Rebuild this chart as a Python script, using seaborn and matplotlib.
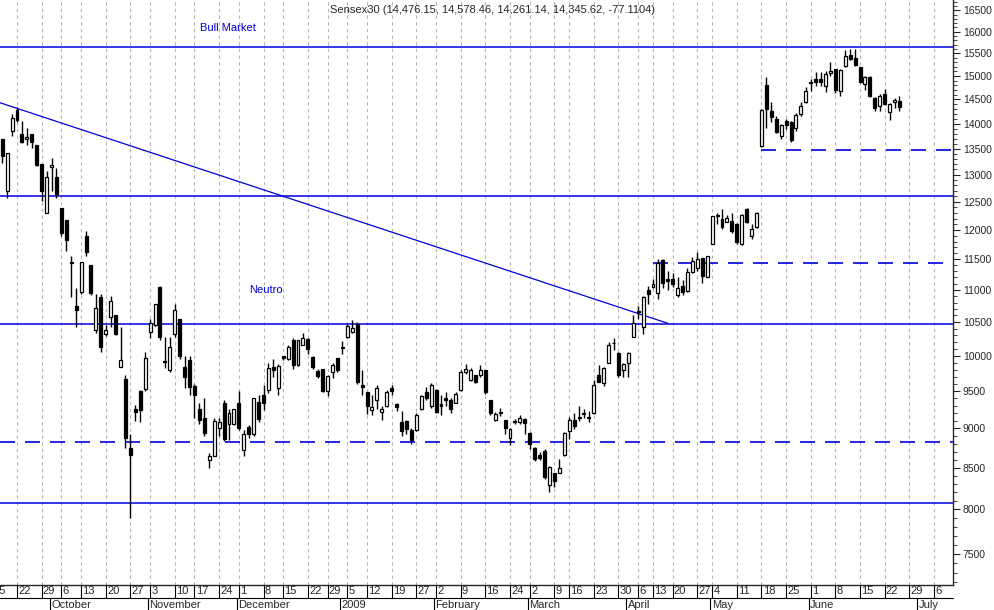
import numpy as np
import pandas as pd
import matplotlib
matplotlib.use("Agg")
import matplotlib.pyplot as plt
import matplotlib.transforms as mtransforms
from matplotlib.lines import Line2D
from matplotlib.ticker import FixedLocator, NullFormatter, FixedFormatter
import seaborn as sns

# ---------------- data ----------------
holidays = ["2008-10-02", "2008-10-09", "2008-10-30", "2008-11-13", "2008-11-27",
            "2008-12-09", "2008-12-25", "2009-01-01", "2009-01-08", "2009-01-26",
            "2009-02-23", "2009-03-10", "2009-03-11", "2009-04-03", "2009-04-07",
            "2009-04-10", "2009-04-14", "2009-04-30", "2009-05-01"]

opens = [13690, 12700, 13850, 14290, 13790, 13700, 13790, 13570, 13200, 12290, 13150, 12950,
         12390, 12180, 11450, 10740, 10960, 11890, 11400, 10380, 10890, 10320, 10580, 10600, 9840,
         9660, 8750, 9260, 9500, 9530, 10350, 10450, 11050, 9920, 9800,
         10320, 10540, 9840, 9940, 9570, 9250, 9140, 8590, 8650, 9000, 9330, 9060, 9060,
         9330, 8720, 9020, 8930, 9350, 9440, 9510, 9840, 9540, 9990, 9950, 10230, 9870, 10160,
         10250, 9980, 9780, 9810, 9500, 9770, 9960, 10110, 10280, 10350, 10470, 9580,
         9480, 9240, 9380, 9210, 9290, 9540, 9320, 9080, 9100, 8980, 8980, 9250, 9490, 9290,
         9510, 9320, 9400, 9380, 9340, 9510, 9760, 9650, 9720, 9720, 9790, 9370, 9110, 9200, 9110,
         8880, 9080, 9080, 9120, 8940, 8750, 8660, 8710, 8290, 8430, 8440, 8660,
         8970, 9110, 9130, 9190, 9140, 9200, 9720, 9610, 9900, 10180, 10040, 9790, 9900, 10280,
         10650, 10420, 11000, 11040, 10950, 11480, 11180, 11180, 10920, 11060, 10990, 11290,
         11360, 11520, 11210, 11760, 12250, 12200, 12140, 12160, 12110, 11750, 12370, 11890, 12050,
         13560, 14810, 14260, 14100, 13760, 14060, 14040, 13920, 14200, 14440,
         14860, 14930, 14930, 14790, 15060, 15150, 14670, 15220, 15470, 15400,
         15190, 14820, 14990, 14540, 14370, 14620, 14230, 14440, 14476]
highs = [13690, 13410, 14200, 14350, 14060, 13910, 13790, 13570, 13200, 13080, 13320, 13120,
         12390, 12180, 11560, 11030, 11450, 11990, 11400, 10930, 10930, 10450, 10900, 10600, 10420,
         9730, 8920, 9310, 9520, 10060, 10550, 10780, 11070, 10280, 10270,
         10780, 10550, 10000, 10000, 9590, 9330, 9400, 8680, 9130, 9130, 9370, 9250, 9260,
         9500, 8980, 9040, 9410, 9450, 9580, 9900, 9950, 9880, 10000, 10150, 10260, 10230, 10330,
         10260, 10000, 9810, 9810, 9720, 9900, 9960, 10220, 10470, 10530, 10500, 9790,
         9480, 9440, 9580, 9300, 9520, 9580, 9330, 9230, 9110, 9010, 9200, 9450, 9560, 9610,
         9530, 9450, 9490, 9400, 9480, 9790, 9880, 9820, 9730, 9860, 9790, 9380, 9210, 9270, 9110,
         9010, 9120, 9170, 9130, 8950, 8760, 8700, 8730, 8520, 8440, 8610, 8950,
         9150, 9200, 9300, 9260, 9230, 9650, 9860, 9840, 10200, 10260, 10060, 9900, 10060, 10600,
         10750, 10900, 11070, 11180, 11500, 11500, 11300, 11280, 11200, 11160, 11360, 11530,
         11620, 11520, 11560, 12250, 12300, 12370, 12270, 12290, 12120, 12280, 12380, 12110, 12320,
         14300, 14980, 14450, 14150, 13990, 14090, 14050, 14220, 14440, 14760,
         14940, 15080, 15080, 15120, 15300, 15150, 15160, 15580, 15600, 15600,
         15200, 15000, 15000, 14560, 14620, 14720, 14430, 14540, 14578]
lows = [13220, 12570, 13750, 14040, 13610, 13580, 13520, 13160, 12520, 12290, 12700, 12560,
        11900, 11640, 10890, 10420, 10930, 11560, 10920, 10330, 10060, 10290, 10420, 10300, 9840,
        8740, 7900, 9100, 9080, 9500, 10260, 10440, 10230, 9820, 9760,
        10270, 9950, 9540, 9450, 9130, 9050, 8900, 8500, 8650, 8900, 8840, 8850, 9040,
        8980, 8650, 8880, 8900, 9080, 9240, 9470, 9700, 9450, 9930, 9940, 9810, 9850, 10150,
        10020, 9810, 9680, 9480, 9430, 9680, 9770, 10020, 10260, 10330, 9600, 9440,
        9190, 9180, 9250, 9110, 9280, 9450, 9230, 8900, 8920, 8800, 8960, 9240, 9380, 9270,
        9200, 9180, 9300, 9200, 9330, 9500, 9740, 9640, 9610, 9700, 9460, 9170, 9100, 9160, 8930,
        8790, 9050, 9050, 8920, 8730, 8580, 8600, 8360, 8210, 8270, 8430, 8640,
        8860, 8990, 9100, 9130, 9080, 9190, 9620, 9570, 9900, 10080, 9690, 9700, 9700, 10270,
        10550, 10320, 10780, 11030, 10860, 11030, 11000, 11050, 10880, 10920, 10960, 11280,
        11300, 11110, 11200, 11750, 12110, 12020, 12130, 11950, 11750, 11740, 12120, 11840, 12040,
        13540, 13920, 14040, 13810, 13690, 13900, 13640, 13850, 14150, 14420,
        14680, 14780, 14780, 14660, 15010, 14640, 14580, 15200, 15350, 15230,
        14860, 14710, 14560, 14260, 14260, 14390, 14070, 14320, 14261]
closes = [13350, 13410, 14120, 14080, 13630, 13740, 13630, 13180, 12690, 12960, 13190, 12640,
          11940, 11820, 11430, 10690, 11450, 11620, 10950, 10720, 10130, 10380, 10830, 10320, 9930,
          8880, 8660, 9220, 9240, 9960, 10490, 10780, 10280, 9910, 10120,
          10680, 9990, 9690, 9550, 9450, 9110, 8940, 8650, 9100, 9080, 8860, 9200, 9250,
          9010, 8920, 8920, 9400, 9120, 9330, 9820, 9790, 9850, 9970, 10130, 9870, 10230, 10260,
          10100, 9840, 9710, 9500, 9710, 9860, 9800, 10120, 10440, 10410, 9620, 9560,
          9290, 9280, 9540, 9250, 9490, 9500, 9280, 8970, 8990, 8850, 9170, 9430, 9400, 9580,
          9220, 9300, 9370, 9250, 9460, 9760, 9810, 9790, 9630, 9800, 9480, 9200, 9190, 9210, 9010,
          8990, 9090, 9130, 9070, 8800, 8610, 8620, 8380, 8510, 8340, 8500, 8940,
          9110, 9030, 9150, 9200, 9150, 9580, 9630, 9820, 10150, 10190, 9720, 9880, 10040, 10490,
          10660, 10880, 10940, 11090, 11430, 11110, 11150, 11100, 11030, 10970, 11290, 11470,
          11500, 11220, 11550, 12240, 12260, 12050, 12210, 11980, 11800, 12270, 12130, 12010, 12290,
          14290, 14310, 14130, 13830, 13970, 13980, 13680, 14180, 14370, 14680,
          14850, 14880, 14880, 15040, 15120, 14690, 15140, 15440, 15370, 15250,
          14880, 14990, 14580, 14320, 14580, 14400, 14400, 14480, 14345]

y_ticks = list(range(7500, 17000, 500))
solid_levels = [15650, 12600, 10470, 8070]
dashed_levels = [(13480, "2009-05-18"), (11430, "2009-04-13"), (8820, None)]
trend_start = ("2008-09-16", 14450)
trend_end = ("2009-04-17", 10480)
title_txt = "Sensex30 (14,476.15, 14,578.46, 14,261.14, 14,345.62, -77.1104)"

# ---------------- calendar ----------------
alldays = pd.bdate_range("2008-09-15", "2009-07-10")
alldays = alldays[~alldays.isin(pd.to_datetime(holidays))]
start = pd.Timestamp("2008-09-17")
idx0 = int(np.where(alldays == start)[0][0])
pos = {d: i - idx0 for i, d in enumerate(alldays)}
n = len(opens)
dates = alldays[idx0:idx0 + n]
xs = np.array([pos[d] for d in dates], dtype=float)

df = pd.DataFrame({"x": xs, "open": opens, "high": highs, "low": lows, "close": closes})

# ---------------- figure ----------------
sns.set_style("white")
plt.rcParams["font.family"] = ["Liberation Sans", "DejaVu Sans"]
W, H = 994, 610
fig = plt.figure(figsize=(W / 100, H / 100), dpi=100)
ax = fig.add_axes([0, 25 / H, 953 / W, 1 - 25 / H])
ax.set_yscale("log")
ax.set_ylim(7170, 16750)

x_sep22 = pos[pd.Timestamp("2008-09-22")]
x_jul6 = pos[pd.Timestamp("2009-07-06")]
ppd = (934 - 17) / (x_jul6 - x_sep22)
ax.set_xlim(x_sep22 - 17 / ppd, x_sep22 + (953 - 17) / ppd)

# weekly grid / ticks
week_first = pd.Series(alldays).groupby(pd.Series(alldays).dt.to_period("W")).first()
week_pos = [pos[d] for d in week_first]
for wp in week_pos:
    ax.axvline(wp, color="#b4b4b4", lw=0.8, ls=(0, (3, 3)), zorder=0)

# levels
blue = "#0000e0"
for lv in solid_levels:
    ax.axhline(lv, color=blue, lw=1.1, zorder=1)
for lv, d in dashed_levels:
    x0 = pos[pd.Timestamp(d)] if d else ax.get_xlim()[0]
    ax.hlines(lv, x0, ax.get_xlim()[1], color=blue, lw=1.2, ls=(0, (9, 6)), zorder=1)
sns.lineplot(x=[pos.get(pd.Timestamp(trend_start[0]), -1), pos[pd.Timestamp(trend_end[0])]],
             y=[trend_start[1], trend_end[1]], color=blue, lw=0.9, ax=ax, zorder=1)

# candles
ax.vlines(df["x"], df["low"], df["high"], color="black", lw=1, zorder=2)
up = df["close"] >= df["open"]
bottoms = np.minimum(df["open"], df["close"])
heights = np.maximum(np.abs(df["close"] - df["open"]), 12)
ax.bar(df["x"], heights, bottom=bottoms, width=0.6,
       color=np.where(up, "white", "black"), edgecolor="black", lw=0.9, zorder=3)

# y axis right, log
ax.yaxis.tick_right()
ax.yaxis.set_major_locator(FixedLocator(y_ticks))
ax.yaxis.set_major_formatter(FixedFormatter([str(v) for v in y_ticks]))
ax.yaxis.set_minor_locator(FixedLocator(list(range(7200, 16800, 100))))
ax.yaxis.set_minor_formatter(NullFormatter())
ax.tick_params(axis="y", which="major", length=5, width=0.8, labelsize=7.5, pad=2, right=True, left=False)
ax.tick_params(axis="y", which="minor", length=3, width=0.6, right=True, left=False)
ax.set_xticks([])
for s in ["top", "left"]:
    ax.spines[s].set_visible(False)
ax.spines["right"].set_linewidth(1)
ax.spines["bottom"].set_linewidth(1)

# bottom label rows
tr = mtransforms.blended_transform_factory(ax.transData, fig.transFigure)
fig.add_artist(Line2D([0, 953 / W], [12 / H, 12 / H], transform=fig.transFigure, color="black", lw=0.8))
for d, wp in zip(week_first, week_pos):
    fig.add_artist(Line2D([wp, wp], [25 / H, 12 / H], transform=tr, color="black", lw=0.8))
    fig.text(wp + 0.25, 18.5 / H, str(d.day), transform=tr, fontsize=8, ha="left", va="center")
month_first = pd.Series(alldays).groupby(pd.Series(alldays).dt.to_period("M")).first()
for d in month_first:
    if d < start:
        continue
    mp = pos[d]
    name = "2009" if (d.month == 1) else d.strftime("%B")
    fig.add_artist(Line2D([mp - 0.4, mp - 0.4], [12 / H, 0], transform=tr, color="black", lw=0.8))
    fig.text(mp - 0.1, 5.5 / H, name, transform=tr, fontsize=8, ha="left", va="center")

# annotations
ax.text(330 / 953, 1 - 10 / 585, title_txt, transform=ax.transAxes, fontsize=8, ha="left", va="center")
ax.text(200 / 953, 1 - 28 / 585, "Bull Market", transform=ax.transAxes, fontsize=8, color=blue, ha="left", va="center")
ax.text(249 / 953, 1 - 290 / 585, "Neutro", transform=ax.transAxes, fontsize=8, color=blue, ha="left", va="center")

fig.savefig("out.png", dpi=100)
